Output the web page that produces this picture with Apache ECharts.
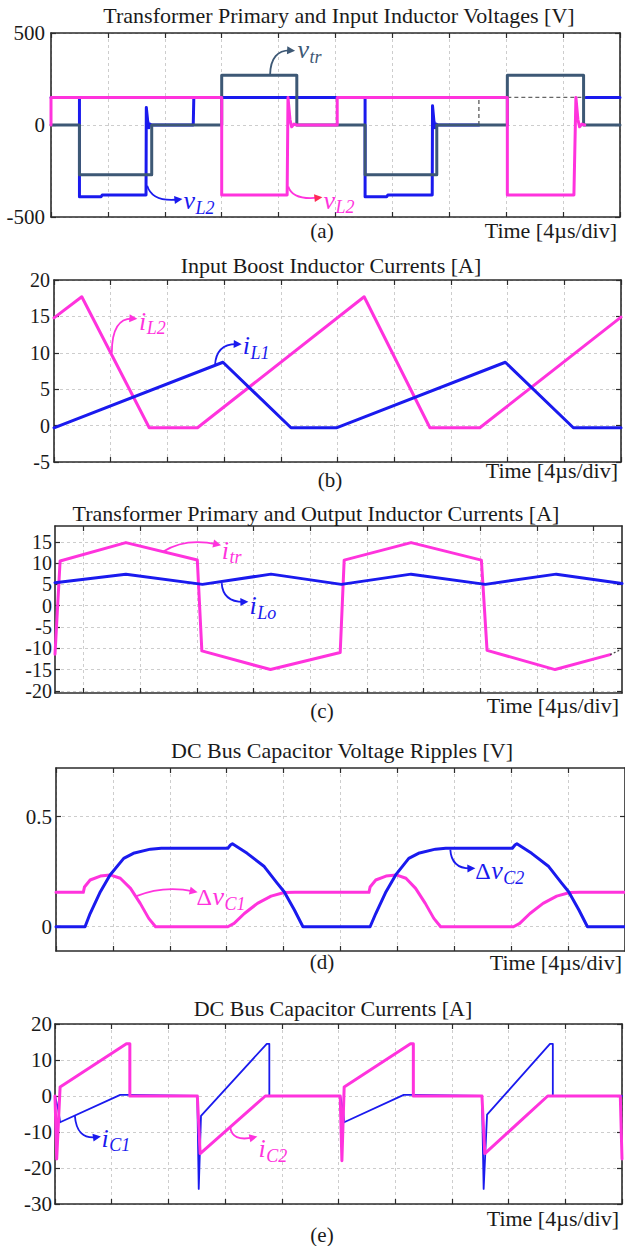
<!DOCTYPE html>
<html><head><meta charset="utf-8">
<script src="https://cdn.jsdelivr.net/npm/echarts@6/dist/echarts.min.js"></script>
<style>html,body{margin:0;padding:0;background:#fff}#c{width:625px;height:1246px}</style>
</head><body><div id="c"></div>
<script>
// ---------- DATA (time in divisions, 4 µs/div) ----------
// (a) Transformer primary and input inductor voltages [V]
const vtrT = [0, 0.5, 0.5, 1.77, 1.77, 3.0, 3.0, 4.32, 4.32, 5.52, 5.52, 6.78, 6.78, 8.02, 8.02, 9.36, 9.36, 10];
const vtrV = [0, 0, -270, -270, 0, 0, 270, 270, 0, 0, -270, -270, 0, 0, 270, 270, 0, 0];
const vL1T = [0, 0.5, 0.5, 0.88, 0.9, 1.67, 1.675, 1.70, 1.72, 1.74, 1.77, 2.5, 2.51, 5.52, 5.52, 5.9, 5.92, 6.70, 6.705, 6.73, 6.75, 6.77, 6.80, 7.52, 7.52, 9.40, 10];
const vL1V = [150, 150, -390, -390, -380, -380, 95, 20, -15, 5, 0, 0, 150, 150, -390, -390, -380, -380, 105, 20, -15, 5, 0, 0, null, 150, 150];
const vL2T = [0, 0, 3.0, 3.0, 4.15, 4.165, 4.20, 4.23, 4.27, 4.32, 5.03, 5.03, 8.02, 8.02, 9.19, 9.225, 9.26, 9.29, 9.33, 9.38];
const vL2V = [0, 150, 150, -380, -380, 150, 30, -10, 5, 0, 0, 150, 150, -380, -380, 150, 30, -10, 5, 0];
const vHidT = [7.52, 7.52, 7.52, 8.02, 9.36];
const vHidV = [0, 150, null, 150, 150];
const aYTicks = [-500, 0, 500];

// (b) Input boost inductor currents [A]
const iL2T = [0, 0.49, 1.68, 2.53, 5.47, 6.63, 7.51, 10];
const iL2V = [14.8, 17.7, -0.3, -0.3, 17.7, -0.3, -0.3, 14.9];
const iL1T = [0, 2.98, 4.18, 4.98, 7.96, 9.16, 10];
const iL1V = [-0.3, 8.7, -0.3, -0.3, 8.7, -0.3, -0.3];
const bYTicks = [-5, 0, 5, 10, 15, 20];

// (c) Transformer primary and output inductor currents [A]
const itrT = [0, 0.09, 1.25, 2.51, 2.59, 3.80, 5.03, 5.10, 6.28, 7.52, 7.62, 8.82, 9.79];
const itrV = [-11.4, 10.5, 14.8, 10.7, -10.6, -15, -11, 10.7, 14.8, 10.7, -10.5, -15, -11.5];
const itrTailT = [9.79, 10];
const itrTailV = [-11.5, -10.2];
const iLoT = [0, 1.25, 2.6, 3.81, 5.05, 6.28, 7.59, 8.84, 10];
const iLoV = [5.4, 7.4, 5.0, 7.4, 5.0, 7.4, 5.0, 7.4, 5.2];
const cYTicks = [-20, -15, -10, -5, 0, 5, 10, 15];
const cXTicks = [0.5, 1.5, 2.5, 3.5, 4.5, 5.5, 6.5, 7.5, 8.5, 9.5];

// (d) DC bus capacitor voltage ripples [V]
const dvC2T = [0, 0.51, 0.6, 0.78, 0.95, 1.19, 1.36, 1.66, 1.85, 3.02, 3.07, 3.1, 3.36, 3.66, 3.89, 4.01, 4.19, 4.34, 5.52, 5.62, 5.8, 5.97, 6.2, 6.37, 6.67, 6.85, 8.02, 8.07, 8.1, 8.36, 8.66, 8.89, 9.01, 9.19, 9.34, 10];
const dvC2V = [0, 0, 0.06, 0.159, 0.235, 0.31, 0.333, 0.352, 0.356, 0.356, 0.372, 0.376, 0.333, 0.273, 0.197, 0.159, 0.076, 0, 0, 0.06, 0.159, 0.235, 0.31, 0.333, 0.352, 0.356, 0.356, 0.372, 0.376, 0.333, 0.273, 0.197, 0.159, 0.076, 0, 0];
const dvC1T = [0, 0.48, 0.5, 0.6, 0.78, 0.95, 1.13, 1.31, 1.48, 1.63, 1.75, 3.02, 3.13, 3.31, 3.54, 3.78, 4.01, 4.2, 5.5, 5.52, 5.62, 5.8, 5.98, 6.15, 6.32, 6.49, 6.64, 6.76, 8.04, 8.15, 8.33, 8.56, 8.8, 9.03, 9.2, 10];
const dvC1V = [0.156, 0.156, 0.18, 0.212, 0.23, 0.235, 0.22, 0.174, 0.106, 0.038, 0, 0, 0.015, 0.06, 0.106, 0.139, 0.155, 0.156, 0.156, 0.18, 0.212, 0.23, 0.235, 0.22, 0.174, 0.106, 0.038, 0, 0, 0.015, 0.06, 0.106, 0.139, 0.155, 0.156, 0.156];
const dYTicks = [0, 0.5];

// (e) DC bus capacitor currents [A]
const iC2T = [0, 0.03, 0.09, 1.26, 1.32, 1.32, 2.51, 2.56, 3.71, 5.03, 5.06, 5.10, 6.27, 6.32, 6.32, 7.53, 7.58, 8.69, 9.97, 10];
const iC2V = [0, -17.5, 2.5, 14.5, 14.5, 0, 0, -16, 0, 0, -18, 2.5, 14.5, 14.5, 0, 0, -16, 0, 0, -17.5];
const iC1T = [0, 0.06, 0.09, 1.15, 1.32, 2.51, 2.535, 2.575, 3.735, 3.78, 3.78, 5.03, 5.08, 5.10, 6.15, 6.32, 7.53, 7.56, 7.62, 8.73, 8.78, 8.78, 10];
const iC1V = [0, -4, -7.3, 0.3, 0.3, 0, -25.8, -5.5, 14.5, 14.5, 0, 0, -4, -7.3, 0.3, 0.3, 0, -25.8, -5.2, 14.5, 14.5, 0, 0];
const eYTicks = [-30, -20, -10, 0, 10, 20];

const titles = ['Transformer Primary and Input Inductor Voltages [V]', 'Input Boost Inductor Currents [A]', 'Transformer Primary and Output Inductor Currents [A]', 'DC Bus Capacitor Voltage Ripples [V]', 'DC Bus Capacitor Currents [A]'];
const captions = ['(a)', '(b)', '(c)', '(d)', '(e)'];
const timeLabel = 'Time [4\u00b5s/div]';

// ---------- STYLE / LAYOUT ----------
const BLUE = '#1a1aee', MAG = '#ff33dd', SLATE = '#3d5875', AX = '#2b2b2b', GRIDC = '#cdcdcd', TXT = '#1a1a1a';
const FONT = 'Liberation Serif, serif';
const panels = [
  {left: 51, top: 33, width: 569, height: 184, yMin: -500, yMax: 500, yTicks: aYTicks, xTicks: null, fs: 21, margin: 6, titleX: 339, titleY: 15, capX: 322, capY: 231, timeY: 230},
  {left: 54, top: 280, width: 567, height: 182, yMin: -5, yMax: 20, yTicks: bYTicks, xTicks: null, fs: 20, margin: 4, titleX: 331, titleY: 265, capX: 330, capY: 480, timeY: 470},
  {left: 55, top: 526, width: 567, height: 167, yMin: -20.5, yMax: 18.7, yTicks: cYTicks, xTicks: cXTicks, fs: 20, margin: 3, titleX: 316, titleY: 513, capX: 322, capY: 711, timeY: 705},
  {left: 56, top: 768, width: 570, height: 183, yMin: -0.11, yMax: 0.72, yTicks: dYTicks, xTicks: null, fs: 21, margin: 4, titleX: 342, titleY: 750, capX: 322, capY: 962, timeY: 962},
  {left: 55, top: 1024, width: 567, height: 180, yMin: -30, yMax: 20, yTicks: eYTicks, xTicks: null, fs: 21, margin: 3, titleX: 333, titleY: 1008, capX: 322, capY: 1235, timeY: 1218}
];

const grid = [], xAxis = [], yAxis = [];
panels.forEach((p, i) => {
  grid.push({left: p.left, top: p.top, width: p.width, height: p.height, containLabel: false});
  const line = {show: true, onZero: false, lineStyle: {color: AX, width: 1.6}};
  const tick = {show: true, inside: true, length: 5, lineStyle: {color: AX, width: 1.2}};
  const xBase = {type: 'value', gridIndex: i, min: 0, max: 10, axisLine: line, axisLabel: {show: false}};
  if (p.xTicks) { tick.customValues = p.xTicks; } else { xBase.interval = 1; }
  xAxis.push(Object.assign({}, xBase, {position: 'bottom', axisTick: tick, splitLine: {show: true, lineStyle: {color: GRIDC, type: [3, 3], width: 1}}}));
  xAxis.push(Object.assign({}, xBase, {position: 'top', axisTick: tick, splitLine: {show: false}}));
  const ytick = {show: true, inside: true, length: 5, customValues: p.yTicks, lineStyle: {color: AX, width: 1.2}};
  const yBase = {type: 'value', gridIndex: i, min: p.yMin, max: p.yMax, axisLine: line, axisTick: ytick};
  yAxis.push(Object.assign({}, yBase, {position: 'left',
    axisLabel: {show: true, customValues: p.yTicks, fontFamily: FONT, fontSize: p.fs, color: TXT, margin: p.margin},
    splitLine: {show: true, lineStyle: {color: GRIDC, type: [3, 3], width: 1}}}));
  yAxis.push(Object.assign({}, yBase, {position: 'right', axisLabel: {show: false}, splitLine: {show: false}}));
});

function pts(T, V) { return T.map((t, k) => V[k] === null ? [t, '-'] : [t, V[k]]); }
function ser(i, T, V, color, width, extra) {
  return Object.assign({type: 'line', xAxisIndex: 2 * i, yAxisIndex: 2 * i, data: pts(T, V), showSymbol: false, symbol: 'none',
    connectNulls: false, animation: false, silent: true,
    lineStyle: {color: color, width: width, join: 'round', cap: 'round'}, itemStyle: {color: color}}, extra || {});
}
const series = [
  ser(0, vL1T, vL1V, BLUE, 3),
  ser(0, vHidT, vHidV, '#666', 1.4, {lineStyle: {color: '#666', width: 1.4, type: [4, 3]}}),
  ser(0, vtrT, vtrV, SLATE, 3),
  ser(0, vL2T, vL2V, MAG, 3),
  ser(1, iL2T, iL2V, MAG, 3),
  ser(1, iL1T, iL1V, BLUE, 3),
  ser(2, itrT, itrV, MAG, 3),
  ser(2, itrTailT, itrTailV, '#444', 1.3, {lineStyle: {color: '#444', width: 1.3, type: [2, 2]}}),
  ser(2, iLoT, iLoV, BLUE, 3),
  ser(3, dvC1T, dvC1V, MAG, 3),
  ser(3, dvC2T, dvC2V, BLUE, 3),
  ser(4, iC1T, iC1V, BLUE, 1.8),
  ser(4, iC2T, iC2V, MAG, 3)
];

const chart = echarts.init(document.getElementById('c'), null, {renderer: 'svg', width: 625, height: 1246});
chart.setOption({backgroundColor: '#fff', animation: false, textStyle: {fontFamily: FONT}, grid, xAxis, yAxis, series});

// ---------- TEXT & ANNOTATIONS ----------
const g = [];
function txt(x, y, s, size, align, extra) {
  g.push({type: 'text', silent: true, z: 100, style: Object.assign({text: s, x: x, y: y, fontFamily: FONT, fontSize: size, fill: TXT,
    align: align, textAlign: align, verticalAlign: 'middle', textVerticalAlign: 'middle'}, extra || {})});
}
panels.forEach((p, i) => {
  txt(p.titleX, p.titleY, titles[i], 22, 'center');
  txt(p.capX, p.capY, captions[i], 21, 'center');
  txt(Math.min(p.left + p.width, 625) - 3, p.timeY, timeLabel, 22, 'right');
});

const ctx = document.createElement('canvas').getContext('2d');
function measure(s, size, italic) { ctx.font = (italic ? 'italic ' : '') + size + 'px Liberation Serif'; return ctx.measureText(s).width; }

// annotation: panel, arrow from / control / to (data coords), label position (data coords), parts
const annos = [
  {i: 0, c: SLATE, head: SLATE, from: [3.85, 272], ctrl: [3.86, 410], to: [4.22, 405], at: [4.33, 410], parts: [['v', 26, 1, 0], ['tr', 18, 1, 1]]},
  {i: 0, c: BLUE, head: BLUE, from: [1.69, -330], ctrl: [1.78, -420], to: [2.24, -405], at: [2.33, -412], parts: [['v', 26, 1, 0], ['L2', 18, 1, 1]]},
  {i: 0, c: MAG, head: '#ff2a55', from: [4.17, -335], ctrl: [4.25, -410], to: [4.70, -395], at: [4.79, -410], parts: [['v', 26, 1, 0], ['L2', 18, 1, 1]]},
  {i: 1, c: MAG, head: MAG, from: [1.02, 10.0], ctrl: [1.02, 14.9], to: [1.40, 14.7], at: [1.50, 14.3], parts: [['i', 26, 1, 0], ['L2', 18, 1, 1]]},
  {i: 1, c: BLUE, head: BLUE, from: [2.84, 8.3], ctrl: [2.86, 11.3], to: [3.24, 11.2], at: [3.33, 11.0], parts: [['i', 26, 1, 0], ['L1', 18, 1, 1]]},
  {i: 2, c: MAG, head: MAG, from: [1.91, 12.7], ctrl: [2.3, 16.0], to: [2.86, 14.4], at: [2.94, 13.0], parts: [['i', 26, 1, 0], ['tr', 18, 1, 1]]},
  {i: 2, c: BLUE, head: BLUE, from: [2.94, 5.3], ctrl: [2.96, 0.8], to: [3.34, 0.9], at: [3.43, 0.0], parts: [['i', 26, 1, 0], ['Lo', 18, 1, 1]]},
  {i: 3, c: MAG, head: MAG, from: [1.40, 0.138], ctrl: [1.9, 0.19], to: [2.42, 0.16], at: [2.47, 0.135], parts: [['\u0394', 24, 0, 0], ['v', 26, 1, 0], ['C1', 18, 1, 1]]},
  {i: 3, c: BLUE, head: BLUE, from: [6.93, 0.35], ctrl: [6.95, 0.262], to: [7.30, 0.265], at: [7.37, 0.255], parts: [['\u0394', 24, 0, 0], ['v', 26, 1, 0], ['C2', 18, 1, 1]]},
  {i: 4, c: BLUE, head: BLUE, from: [0.35, -5.4], ctrl: [0.38, -12.2], to: [0.74, -11.4], at: [0.82, -11.8], parts: [['i', 26, 1, 0], ['C1', 18, 1, 1]]},
  {i: 4, c: MAG, head: MAG, from: [3.09, -8.6], ctrl: [3.12, -12.8], to: [3.50, -11.5], at: [3.59, -14.6], parts: [['i', 26, 1, 0], ['C2', 18, 1, 1]]}
];
annos.forEach(a => {
  const f = {xAxisIndex: 2 * a.i, yAxisIndex: 2 * a.i};
  const p0 = chart.convertToPixel(f, a.from), pc = chart.convertToPixel(f, a.ctrl), p1 = chart.convertToPixel(f, a.to), pl = chart.convertToPixel(f, a.at);
  g.push({type: 'bezierCurve', silent: true, z: 90, shape: {x1: p0[0], y1: p0[1], x2: p1[0], y2: p1[1], cpx1: pc[0], cpy1: pc[1]},
    style: {stroke: a.c, lineWidth: 1.8, fill: null}});
  const dx = p1[0] - pc[0], dy = p1[1] - pc[1], L = Math.hypot(dx, dy) || 1, ux = dx / L, uy = dy / L;
  const tip = [p1[0] + ux * 4, p1[1] + uy * 4], base = [p1[0] - ux * 4, p1[1] - uy * 4];
  g.push({type: 'polygon', silent: true, z: 91, shape: {points: [tip, [base[0] - uy * 4, base[1] + ux * 4], [base[0] + uy * 4, base[1] - ux * 4]]},
    style: {fill: a.head}});
  let x = pl[0];
  a.parts.forEach(pt => {
    const [s, size, it, sub] = pt;
    g.push({type: 'text', silent: true, z: 100, style: {text: s, x: x, y: pl[1] + (sub ? 7 : 0), fontFamily: FONT, fontSize: size,
      fontStyle: it ? 'italic' : 'normal', fill: a.c, align: 'left', textAlign: 'left', verticalAlign: 'middle', textVerticalAlign: 'middle'}});
    x += measure(s, size, it) + (sub ? 0 : 0.5);
  });
});
chart.setOption({graphic: {elements: g}});
</script>
</body></html>
